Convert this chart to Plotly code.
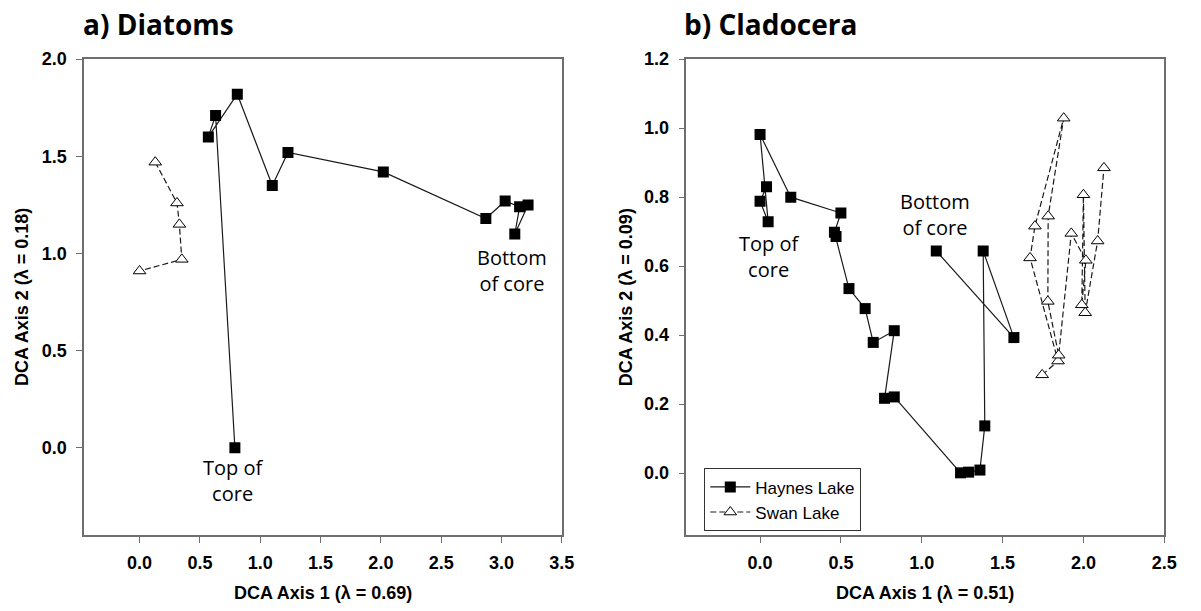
import plotly.graph_objects as go

# ---- Data ----
# a) Diatoms
dia_haynes_x = [0.79, 0.63, 0.57, 0.81, 1.10, 1.23, 2.02, 2.87, 3.03, 3.15, 3.11, 3.22]
dia_haynes_y = [0.00, 1.71, 1.60, 1.82, 1.35, 1.52, 1.42, 1.18, 1.27, 1.24, 1.10, 1.25]
dia_swan_x = [0.13, 0.31, 0.33, 0.35, 0.00]
dia_swan_y = [1.47, 1.26, 1.15, 0.97, 0.91]

# b) Cladocera
cla_haynes_x = [1.09, 1.57, 1.38, 1.39, 1.36, 1.29, 1.24, 0.83, 0.77, 0.83, 0.70,
                0.65, 0.55, 0.47, 0.46, 0.50, 0.19, 0.00, 0.05, 0.00, 0.04]
cla_haynes_y = [0.644, 0.393, 0.644, 0.137, 0.009, 0.003, 0.001, 0.221, 0.217, 0.413, 0.379,
                0.477, 0.535, 0.686, 0.698, 0.754, 0.800, 0.982, 0.729, 0.788, 0.830]
cla_swan_x = [1.745, 1.843, 1.67, 1.70, 1.878, 1.782, 1.78, 1.847, 1.925, 2.015, 1.99, 2.00,
              2.011, 2.088, 2.127]
cla_swan_y = [0.285, 0.325, 0.624, 0.716, 1.029, 0.745, 0.498, 0.342, 0.695, 0.617, 0.488,
              0.807, 0.465, 0.673, 0.885]

series_names = ["Haynes Lake", "Swan Lake"]
panel_titles = ["a) Diatoms", "b) Cladocera"]
x_titles = ["DCA Axis 1 (λ = 0.69)", "DCA Axis 1 (λ = 0.51)"]
y_titles = ["DCA Axis 2 (λ = 0.18)", "DCA Axis 2 (λ = 0.09)"]
core_labels = ["Top of<br>core", "Bottom<br>of core"]

W, H = 1201, 611
def px(x):
    return x / W
def py(y):
    return 1 - y / H

haynes_style = dict(mode="lines+markers",
                    line=dict(color="#1a1a1a", width=1.2),
                    marker=dict(symbol="square", size=11, color="black",
                                line=dict(color="black", width=0)))
swan_style = dict(mode="lines+markers",
                  line=dict(color="#1a1a1a", width=1.2, dash="6px,3px"),
                  marker=dict(symbol="triangle-up", size=11, color="white",
                              line=dict(color="black", width=1)))

fig = go.Figure()
fig.add_trace(go.Scatter(x=dia_haynes_x, y=dia_haynes_y, xaxis="x", yaxis="y",
                         showlegend=False, name=series_names[0], **haynes_style))
fig.add_trace(go.Scatter(x=dia_swan_x, y=dia_swan_y, xaxis="x", yaxis="y",
                         showlegend=False, name=series_names[1], **swan_style))
fig.add_trace(go.Scatter(x=cla_haynes_x, y=cla_haynes_y, xaxis="x2", yaxis="y2",
                         showlegend=True, name=series_names[0], **haynes_style))
fig.add_trace(go.Scatter(x=cla_swan_x, y=cla_swan_y, xaxis="x2", yaxis="y2",
                         showlegend=True, name=series_names[1], **swan_style))

tickfont = dict(family="Liberation Sans, Arial, sans-serif", size=18, color="black", weight="bold")
axis_common = dict(showline=True, linecolor="#6e6e6e", linewidth=1.6, mirror=True,
                   ticks="outside", ticklen=6, tickwidth=1.4, tickcolor="#6e6e6e",
                   showgrid=False, zeroline=False, tickfont=tickfont, tickformat=".1f")

ydom = [py(534), py(50)]
fig.update_layout(
    width=W, height=H,
    margin=dict(l=0, r=0, t=0, b=0),
    paper_bgcolor="white", plot_bgcolor="white",
    xaxis=dict(domain=[px(85), px(568)], range=[-0.46, 3.5], dtick=0.5, tick0=0,
               anchor="y", ticklabelstandoff=4, **axis_common),
    yaxis=dict(domain=ydom, range=[-0.45, 2.0], dtick=0.5, tick0=0,
               anchor="x", ticklabelstandoff=6, **axis_common),
    xaxis2=dict(domain=[px(694), px(1177)], range=[-0.455, 2.5], dtick=0.5, tick0=0,
                anchor="y2", ticklabelstandoff=4, **axis_common),
    yaxis2=dict(domain=ydom, range=[-0.18, 1.2], dtick=0.2, tick0=0,
                anchor="x2", ticklabelstandoff=6, **axis_common),
    legend=dict(x=px(712), y=py(466), xanchor="left", yanchor="top",
                bgcolor="white", bordercolor="#333333", borderwidth=1,
                font=dict(family="Liberation Sans, Arial, sans-serif", size=17, color="black"),
                itemwidth=40, tracegroupgap=0),
)

ann = []
title_font = dict(family="Open Sans, sans-serif", size=28, color="black", weight="bold")
ann.append(dict(text=panel_titles[0], x=px(82), y=py(14), xref="paper", yref="paper",
                xanchor="left", yanchor="middle", showarrow=False, font=title_font))
ann.append(dict(text=panel_titles[1], x=px(689), y=py(14), xref="paper", yref="paper",
                xanchor="left", yanchor="middle", showarrow=False, font=title_font))

axt_font = dict(family="Liberation Sans, Arial, sans-serif", size=18, color="black", weight="bold")
ann.append(dict(text=x_titles[0], x=px(326.5), y=py(593), xref="paper", yref="paper",
                xanchor="center", yanchor="middle", showarrow=False, font=axt_font))
ann.append(dict(text=x_titles[1], x=px(935.5), y=py(593), xref="paper", yref="paper",
                xanchor="center", yanchor="middle", showarrow=False, font=axt_font))
ann.append(dict(text=y_titles[0], x=px(22), y=py(292), xref="paper", yref="paper",
                xanchor="center", yanchor="middle", showarrow=False, font=axt_font,
                textangle=-90))
ann.append(dict(text=y_titles[1], x=px(633), y=py(292), xref="paper", yref="paper",
                xanchor="center", yanchor="middle", showarrow=False, font=axt_font,
                textangle=-90))

lab_font = dict(family="Open Sans, sans-serif", size=20, color="black")
ann.append(dict(text=core_labels[0], x=0.78, y=-0.17, xref="x", yref="y",
                showarrow=False, font=lab_font))
ann.append(dict(text=core_labels[1], x=3.09, y=0.91, xref="x", yref="y",
                showarrow=False, font=lab_font))
ann.append(dict(text=core_labels[0], x=0.056, y=0.629, xref="x2", yref="y2",
                showarrow=False, font=lab_font))
ann.append(dict(text=core_labels[1], x=1.082, y=0.75, xref="x2", yref="y2",
                showarrow=False, font=lab_font))
fig.update_layout(annotations=ann)

fig.write_html("out.html")
